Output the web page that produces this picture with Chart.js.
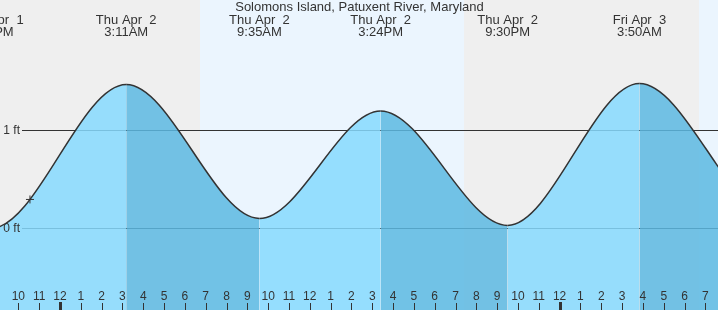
<!DOCTYPE html>
<html><head><meta charset="utf-8">
<script src="https://cdn.jsdelivr.net/npm/chart.js@4/dist/chart.umd.min.js"></script>
<style>html,body{margin:0;padding:0;background:#fff;overflow:hidden}#wrap{width:718px;height:310px;position:relative}</style>
</head><body><div id="wrap"><canvas id="c" width="718" height="310"></canvas></div>
<script>
const chartTitle = "Solomons Island, Patuxent River, Maryland";
// tide extremes: hours since Wed Apr 1 00:00, heights in ft
const tideHours   = [14.40, 20.70, 27.183, 33.583, 39.40, 45.50, 51.833, 58.37, 64.30];
const tideHeights = [1.25, 0.00, 1.47, 0.10, 1.20, 0.03, 1.48, 0.10, 1.22];
const extremeDays  = ["", "Wed Apr  1", "Thu Apr  2", "Thu Apr  2", "Thu Apr  2", "Thu Apr  2", "Fri Apr  3", "", ""];
const extremeTimes = ["", "8:42PM", "3:11AM", "9:35AM", "3:24PM", "9:30PM", "3:50AM", "", ""];
// daylight intervals (sunrise, sunset) in hours since Apr 1 00:00
const dayStarts = [30.727, 54.695];
const dayEnds   = [43.407, 67.40];
// hourly axis labels starting at Apr 1 22:00
const firstTickHour = 22;
const hourLabels = ["10","11","12","1","2","3","4","5","6","7","8","9","10","11","12","1","2","3","4","5","6","7","8","9","10","11","12","1","2","3","4","5","6","7"];
const yTickValues = [1, 0];
const yTickLabels = ["1 ft", "0 ft"];
// current time marker
const nowHour = [22.56];
const nowHeight = [0.295];

const FONT = "'Liberation Sans', Arial, sans-serif";
const TXT = '#333';
const lightFill = 'rgba(134,217,254,0.85)';
const darkFill  = 'rgba(92,184,226,0.85)';

const bgPlugin = {
  id: 'bg',
  beforeDatasetsDraw(chart) {
    const {ctx, chartArea: a, scales: {x, y}} = chart;
    ctx.save();
    ctx.fillStyle = '#efefef';
    ctx.fillRect(a.left, a.top, a.right - a.left, a.bottom - a.top);
    ctx.fillStyle = '#ebf5fe';
    for (let i = 0; i < dayStarts.length; i++) {
      const x0 = Math.max(a.left, Math.round(x.getPixelForValue(dayStarts[i])));
      const x1 = Math.min(a.right, Math.round(x.getPixelForValue(dayEnds[i])));
      if (x1 > x0) ctx.fillRect(x0, a.top, x1 - x0, a.bottom - a.top);
    }
    ctx.strokeStyle = '#333';
    ctx.lineWidth = 1;
    for (const v of yTickValues) {
      const py = Math.round(y.getPixelForValue(v)) + 0.5;
      ctx.beginPath(); ctx.moveTo(22, py); ctx.lineTo(a.right, py); ctx.stroke();
    }
    ctx.restore();
  },
  afterDatasetsDraw(chart) {
    const {ctx, chartArea: a, scales: {x, y}} = chart;
    ctx.save();
    ctx.fillStyle = TXT;
    ctx.font = '12px ' + FONT;
    ctx.textAlign = 'right'; ctx.textBaseline = 'middle';
    yTickValues.forEach((v, i) => ctx.fillText(yTickLabels[i], 20, y.getPixelForValue(v)));
    ctx.textAlign = 'center';
    hourLabels.forEach((lab, i) => {
      const h = firstTickHour + i;
      const px = x.getPixelForValue(h);
      ctx.fillText(lab, px, 296.5);
      if (h % 24 === 0) {
        ctx.fillRect(Math.round(px) - 1, 302, 3, 8);
      } else {
        ctx.fillRect(Math.round(px), 303, 1, 7);
      }
    });
    ctx.font = '13px ' + FONT;
    tideHours.forEach((h, i) => {
      if (!extremeDays[i]) return;
      const px = x.getPixelForValue(h);
      ctx.fillText(extremeDays[i], px, 20);
      ctx.fillText(extremeTimes[i], px, 32);
    });
    ctx.fillText(chartTitle, a.left + (a.right - a.left) / 2 + 0.5, 7.5);
    ctx.restore();
  }
};

new Chart(document.getElementById('c'), {
  data: {
    datasets: [{
      type: 'line',
      data: tideHours.map((h, i) => ({x: h, y: tideHeights[i]})),
      borderColor: '#333',
      borderWidth: 1.5,
      pointRadius: 0,
      cubicInterpolationMode: 'monotone',
      fill: 'start',
      backgroundColor: lightFill,
      segment: {
        backgroundColor: c => (c.p1.parsed.y < c.p0.parsed.y ? darkFill : lightFill)
      },
      order: 2
    }, {
      type: 'scatter',
      data: nowHour.map((h, i) => ({x: h, y: nowHeight[i]})),
      pointStyle: 'cross',
      pointRadius: 4,
      borderColor: '#333',
      borderWidth: 1,
      order: 1
    }]
  },
  options: {
    responsive: false,
    animation: false,
    events: [],
    layout: {padding: 0, autoPadding: false},
    plugins: {legend: {display: false}, title: {display: false}, tooltip: {enabled: false}},
    scales: {
      x: {type: 'linear', display: false, min: 21.121, max: 55.607},
      y: {type: 'linear', display: false, min: -0.835, max: 2.334}
    }
  },
  plugins: [bgPlugin]
});
</script></body></html>
